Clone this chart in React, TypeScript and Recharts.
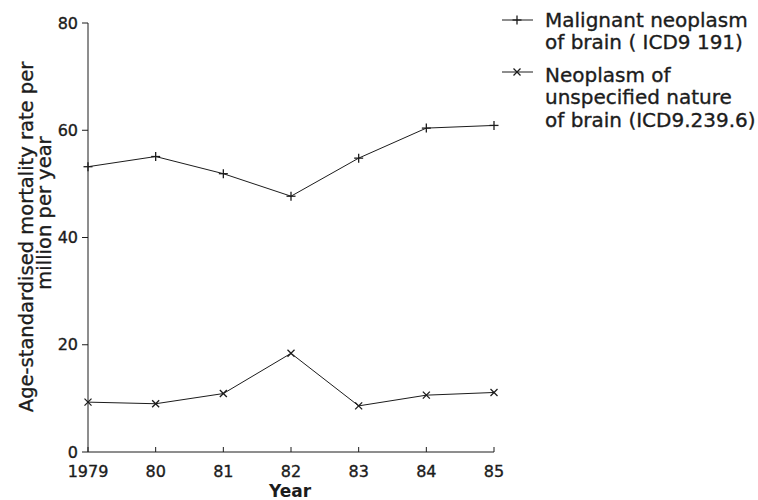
import { LineChart, Line, XAxis, YAxis } from "recharts";

const years = ["1979", "80", "81", "82", "83", "84", "85"];
const malignant = [53.2, 55.1, 51.9, 47.7, 54.8, 60.4, 60.9];
const unspecified = [9.3, 9.0, 10.9, 18.4, 8.6, 10.6, 11.1];
const yTicks = [0, 20, 40, 60, 80];
const legendMalignant = ["Malignant neoplasm", "of brain ( ICD9 191)"];
const legendUnspecified = ["Neoplasm of", "unspecified nature", "of brain (ICD9.239.6)"];

const data = years.map((year, i) => ({
  year,
  malignant: malignant[i],
  unspecified: unspecified[i],
}));

const INK = "#1c1c1c";
const FONT = "'DejaVu Sans', Verdana, sans-serif";
// the scanned type is a little heavier than DejaVu regular
const HEAVY = { stroke: INK, strokeWidth: 0.35 };

function PlusDot({ cx, cy }: { cx?: number; cy?: number }) {
  if (cx == null || cy == null) return null;
  return (
    <g stroke={INK} strokeWidth={1.3}>
      <line x1={cx - 4.5} y1={cy} x2={cx + 4.5} y2={cy} />
      <line x1={cx} y1={cy - 4.5} x2={cx} y2={cy + 4.5} />
    </g>
  );
}

function CrossDot({ cx, cy }: { cx?: number; cy?: number }) {
  if (cx == null || cy == null) return null;
  return (
    <g stroke={INK} strokeWidth={1.3}>
      <line x1={cx - 3.5} y1={cy - 3.5} x2={cx + 3.5} y2={cy + 3.5} />
      <line x1={cx - 3.5} y1={cy + 3.5} x2={cx + 3.5} y2={cy - 3.5} />
    </g>
  );
}

function XTick({ x, y, payload }: { x?: number; y?: number; payload?: { value: string } }) {
  return (
    <g>
      <line x1={x} y1={y} x2={x} y2={(y ?? 0) - 5} stroke={INK} strokeWidth={1} />
      <text x={x} y={(y ?? 0) + 25} textAnchor="middle" fill={INK} fontSize={16} fontFamily={FONT} {...HEAVY}>
        {payload?.value}
      </text>
    </g>
  );
}

// legend drawn as an overlay so it does not shrink the plot area
function LegendOverlay() {
  const groups = [
    { lines: legendMalignant, baseline: 27, markY: 20, Dot: PlusDot },
    { lines: legendUnspecified, baseline: 82, markY: 72, Dot: CrossDot },
  ];
  return (
    <svg width={758} height={160} style={{ position: "absolute", left: 0, top: 0, pointerEvents: "none" }}>
      {groups.map((g, gi) => (
        <g key={gi}>
          <line x1={502} y1={g.markY} x2={533} y2={g.markY} stroke={INK} strokeWidth={1} />
          <g.Dot cx={517} cy={g.markY} />
          <text fill={INK} fontSize={20} fontFamily={FONT} {...HEAVY}>
            {g.lines.map((l, li) => (
              <tspan key={li} x={545} y={g.baseline + li * 22.3}>
                {l}
              </tspan>
            ))}
          </text>
        </g>
      ))}
    </svg>
  );
}

export default function App() {
  return (
    <div style={{ position: "absolute", left: 0, top: 0, width: 758, height: 500, background: "#fff" }}>
      <LineChart
        width={758}
        height={500}
        data={data}
        margin={{ top: 23, right: 264, bottom: 0, left: 0 }}
      >
        <XAxis
          dataKey="year"
          interval={0}
          padding={{ left: 0, right: 0 }}
          stroke={INK}
          tickLine={false}
          tickSize={0}
          tickMargin={0}
          height={48}
          tick={<XTick />}
          label={{
            content: () => (
              <text x={290} y={497} textAnchor="middle" fill={INK} fontSize={17} fontWeight="bold" fontFamily={FONT}>
                Year
              </text>
            ),
          }}
        />
        <YAxis
          domain={[0, 80]}
          ticks={yTicks}
          interval={0}
          width={88}
          stroke={INK}
          tickSize={6}
          tickMargin={4}
          tick={{ fill: INK, fontSize: 16, fontFamily: FONT, ...HEAVY }}
          label={{
            content: () => (
              <g fill={INK} fontSize={19.5} fontFamily={FONT} {...HEAVY}>
                <text x={33} y={237} transform="rotate(-90, 33, 237)" textAnchor="middle">
                  Age-standardised mortality rate per
                </text>
                <text x={51} y={213} transform="rotate(-90, 51, 213)" textAnchor="middle">
                  million per year
                </text>
              </g>
            ),
          }}
        />
        <Line
          type="linear"
          dataKey="malignant"
          stroke={INK}
          strokeWidth={1}
          dot={<PlusDot />}
          activeDot={false}
          isAnimationActive={false}
        />
        <Line
          type="linear"
          dataKey="unspecified"
          stroke={INK}
          strokeWidth={1}
          dot={<CrossDot />}
          activeDot={false}
          isAnimationActive={false}
        />
      </LineChart>
      <LegendOverlay />
    </div>
  );
}
